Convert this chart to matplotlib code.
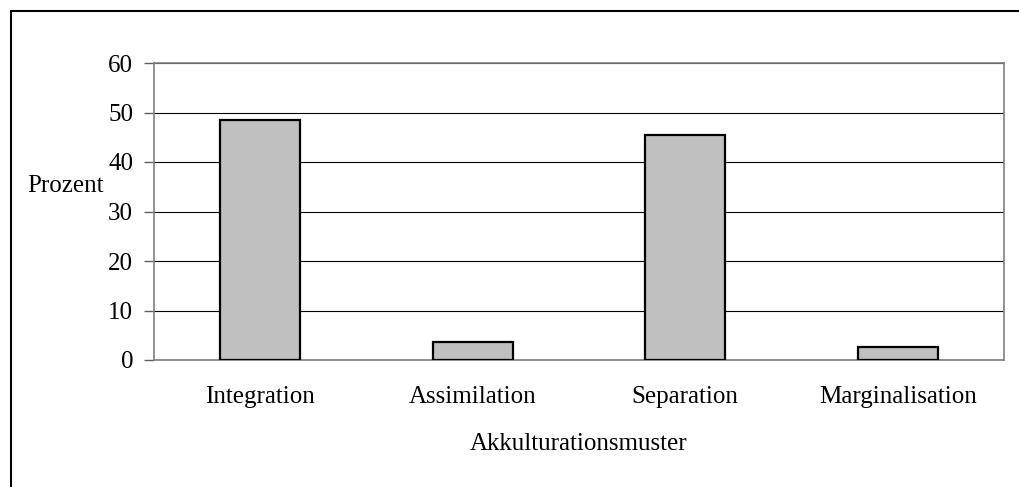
import matplotlib.pyplot as plt
from matplotlib.patches import Rectangle

categories = ["Integration", "Assimilation", "Separation", "Marginalisation"]
values = [48.5, 3.6, 45.4, 2.6]
yticks = [0, 10, 20, 30, 40, 50, 60]

plt.rcParams['font.family'] = ['Liberation Serif', 'DejaVu Serif']

fig = plt.figure(figsize=(10.2, 4.87), dpi=100)
ax = fig.add_axes([154 / 1020, 1 - 360 / 487, 850 / 1020, 297 / 487])

# outer frame around the whole chart (right and bottom edges fall outside the image)
fig.patches.append(Rectangle((11 / 1020, -0.01), 1.05, 1 - 11 / 487 + 0.01,
                             transform=fig.transFigure, fill=False,
                             edgecolor="black", linewidth=1.5))

x = range(len(categories))
ax.bar(x, values, width=0.375, color="#c0c0c0", edgecolor="black", linewidth=1.6, zorder=3)

ax.set_xlim(-0.5, len(categories) - 0.5)
ax.set_ylim(0, 60)
ax.set_yticks(yticks)
ax.set_xticks(list(x))
ax.set_xticklabels(categories)
ax.yaxis.grid(True, color="black", linewidth=0.8, zorder=0)
ax.set_axisbelow(True)

for side in ["left", "bottom", "top", "right"]:
    ax.spines[side].set_color("#808080")
    ax.spines[side].set_linewidth(1.2)

ax.tick_params(axis="y", length=7, width=1.0, color="#606060", labelsize=18, pad=8)
ax.tick_params(axis="x", length=0, labelsize=18, pad=19)

ax.set_xlabel("Akkulturationsmuster", fontsize=18, labelpad=18)
fig.text(65 / 1020, 1 - 186 / 487, "Prozent", fontsize=18, ha="center", va="center")

fig.savefig("out.png", dpi=100)
